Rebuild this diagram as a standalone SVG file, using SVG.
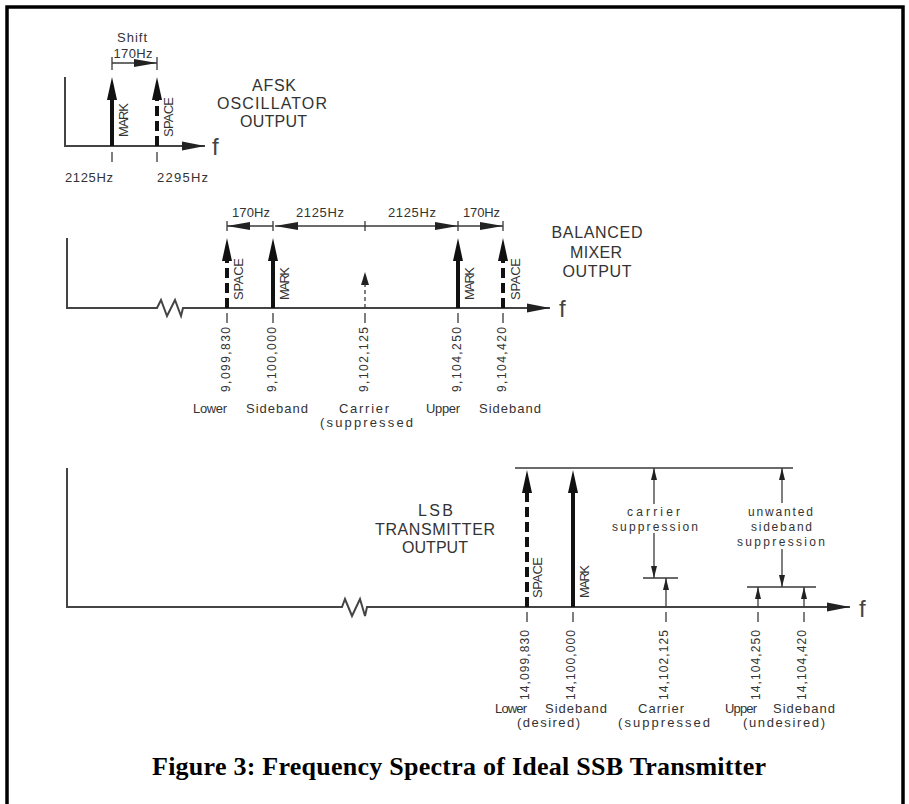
<svg xmlns="http://www.w3.org/2000/svg" width="909" height="804" viewBox="0 0 909 804">
<style>
.ln{stroke:#3a3a3a;stroke-width:1.3;fill:none}
.ax{stroke:#444;stroke-width:2;fill:none}
.mk{stroke:#111;stroke-width:4;fill:none}
.sp{stroke:#111;stroke-width:4;fill:none;stroke-dasharray:10 5}
.cad{font-family:"Liberation Sans",Arial,sans-serif;fill:#333}
.big{font-size:16px}
.sm{font-size:13px}
.xs{font-size:12px}
.f{font-family:"Liberation Sans",Arial,sans-serif;font-size:24px;fill:#444}
.cap{font-family:"Liberation Serif","Times New Roman",serif;font-weight:bold;font-size:26px;fill:#000}
</style>
<defs>
<marker id="big" markerUnits="userSpaceOnUse" markerWidth="30" markerHeight="30" refX="0" refY="0" orient="auto" overflow="visible"><path d="M0,-5 L23,0 L0,5 z" fill="#111"/></marker>
<marker id="dim" markerUnits="userSpaceOnUse" markerWidth="30" markerHeight="30" refX="0" refY="0" orient="auto" overflow="visible"><path d="M-23,-4 L0,0 L-23,4 z" fill="#222"/></marker>
<marker id="axa" markerUnits="userSpaceOnUse" markerWidth="30" markerHeight="30" refX="0" refY="0" orient="auto" overflow="visible"><path d="M-23,-4.5 L0,0 L-23,4.5 z" fill="#222"/></marker>
<marker id="car" markerUnits="userSpaceOnUse" markerWidth="30" markerHeight="30" refX="0" refY="0" orient="auto" overflow="visible"><path d="M0,-4 L13,0 L0,4 z" fill="#222"/></marker>
<marker id="smA" markerUnits="userSpaceOnUse" markerWidth="30" markerHeight="30" refX="0" refY="0" orient="auto" overflow="visible"><path d="M-12,-3 L0,0 L-12,3 z" fill="#222"/></marker>
</defs>
<rect x="7" y="7" width="896" height="830" fill="#fff" stroke="#000" stroke-width="3.5"/>

<g id="afsk">
<path class="ax" d="M65,77 V146 H205" marker-end="url(#axa)"/>
<text class="f" x="212" y="155">f</text>
<line class="mk" x1="112" y1="146" x2="112" y2="100" marker-end="url(#big)"/>
<line class="sp" x1="157" y1="146" x2="157" y2="100" marker-end="url(#big)"/>
<path class="ln" d="M112,152 V162 M157,152 V162 M112,57 V70 M157,57 V70"/>
<line class="ln" x1="112" y1="63" x2="157" y2="63" marker-end="url(#dim)"/>
<text class="cad sm" x="132" y="42" text-anchor="middle" textLength="30">Shift</text>
<text class="cad sm" x="133" y="58" text-anchor="middle" textLength="39">170Hz</text>
<text class="cad sm" x="89" y="182" text-anchor="middle" textLength="48">2125Hz</text>
<text class="cad sm" x="182.5" y="182" text-anchor="middle" textLength="51">2295Hz</text>
<text class="cad sm" transform="translate(128,137) rotate(-90)" textLength="34">MARK</text>
<text class="cad sm" transform="translate(173,137) rotate(-90)" textLength="40">SPACE</text>
<text class="cad big" x="274" y="91" text-anchor="middle" textLength="44">AFSK</text>
<text class="cad big" x="272" y="109" text-anchor="middle" textLength="110">OSCILLATOR</text>
<text class="cad big" x="273.5" y="127" text-anchor="middle" textLength="67">OUTPUT</text>
</g>

<g id="mixer">
<path class="ax" d="M67,238 V308 H157 L161,300 L167,316 L175,300 L181,316 L183,308 H550" marker-end="url(#axa)"/>
<text class="f" x="559" y="317">f</text>
<line class="sp" x1="227" y1="308" x2="227" y2="261" marker-end="url(#big)"/>
<line class="mk" x1="273" y1="308" x2="273" y2="261" marker-end="url(#big)"/>
<line class="ln" x1="365" y1="308" x2="365" y2="285" stroke-dasharray="4 3" marker-end="url(#car)"/>
<line class="mk" x1="458" y1="308" x2="458" y2="261" marker-end="url(#big)"/>
<line class="sp" x1="503" y1="308" x2="503" y2="261" marker-end="url(#big)"/>
<path class="ln" d="M227,221 V231 M273,221 V231 M365,221 V231 M458,221 V231 M503,221 V231"/>
<line class="ln" x1="273" y1="226" x2="227" y2="226" marker-end="url(#dim)"/>
<line class="ln" x1="365" y1="226" x2="275" y2="226" marker-end="url(#dim)"/>
<line class="ln" x1="365" y1="226" x2="458" y2="226" marker-end="url(#dim)"/>
<line class="ln" x1="458" y1="226" x2="503" y2="226" marker-end="url(#dim)"/>
<path class="ln" d="M227,313 V323 M273,313 V323 M365,313 V323 M458,313 V323 M503,313 V323"/>
<text class="cad sm" x="251" y="217" text-anchor="middle" textLength="38">170Hz</text>
<text class="cad sm" x="320" y="217" text-anchor="middle" textLength="48">2125Hz</text>
<text class="cad sm" x="412" y="217" text-anchor="middle" textLength="48">2125Hz</text>
<text class="cad sm" x="481.5" y="217" text-anchor="middle" textLength="37">170Hz</text>
<text class="cad sm" transform="translate(242.5,300) rotate(-90)" textLength="42">SPACE</text>
<text class="cad sm" transform="translate(288.5,300) rotate(-90)" textLength="33">MARK</text>
<text class="cad sm" transform="translate(473.5,300) rotate(-90)" textLength="33">MARK</text>
<text class="cad sm" transform="translate(519.5,300) rotate(-90)" textLength="42">SPACE</text>
<text class="cad xs" transform="translate(229.5,392) rotate(-90)" textLength="65">9,099,830</text>
<text class="cad xs" transform="translate(275.5,392) rotate(-90)" textLength="65">9,100,000</text>
<text class="cad xs" transform="translate(367.5,392) rotate(-90)" textLength="65">9,102,125</text>
<text class="cad xs" transform="translate(460.5,392) rotate(-90)" textLength="65">9,104,250</text>
<text class="cad xs" transform="translate(505.5,392) rotate(-90)" textLength="65">9,104,420</text>
<text class="cad sm" x="210" y="413" text-anchor="middle" textLength="34">Lower</text>
<text class="cad sm" x="277" y="413" text-anchor="middle" textLength="62">Sideband</text>
<text class="cad sm" x="364" y="413" text-anchor="middle" textLength="50">Carrier</text>
<text class="cad sm" x="366.5" y="427" text-anchor="middle" textLength="93">(suppressed</text>
<text class="cad sm" x="443" y="413" text-anchor="middle" textLength="34">Upper</text>
<text class="cad sm" x="510" y="413" text-anchor="middle" textLength="62">Sideband</text>
<text class="cad big" x="597" y="238" text-anchor="middle" textLength="91">BALANCED</text>
<text class="cad big" x="596" y="257.5" text-anchor="middle" textLength="52">MIXER</text>
<text class="cad big" x="597" y="277" text-anchor="middle" textLength="69">OUTPUT</text>
</g>

<g id="lsb">
<path class="ax" d="M67,468 V607 H342 L345,599 L352,616 L360,599 L365,616 L367,607 H850" marker-end="url(#axa)"/>
<text class="f" x="859" y="617">f</text>
<path class="ln" d="M515,468 H793"/>
<line class="sp" x1="527" y1="607" x2="527" y2="493" marker-end="url(#big)"/>
<line class="mk" x1="573" y1="607" x2="573" y2="493" marker-end="url(#big)"/>
<path class="ln" d="M643,578 H678 M747,587 H816"/>
<line class="ln" x1="654" y1="504" x2="654" y2="468" marker-end="url(#smA)"/>
<line class="ln" x1="654" y1="533" x2="654" y2="578" marker-end="url(#smA)"/>
<line class="ln" x1="666" y1="607" x2="666" y2="578" marker-end="url(#smA)"/>
<line class="ln" x1="782" y1="503" x2="782" y2="468" marker-end="url(#smA)"/>
<line class="ln" x1="782" y1="549" x2="782" y2="587" marker-end="url(#smA)"/>
<line class="ln" x1="758" y1="607" x2="758" y2="587" marker-end="url(#smA)"/>
<line class="ln" x1="804" y1="607" x2="804" y2="587" marker-end="url(#smA)"/>
<path class="ln" d="M527,612 V622 M573,612 V622 M666,612 V622 M758,612 V622 M804,612 V622"/>
<text class="cad sm" transform="translate(541.5,598) rotate(-90)" textLength="41">SPACE</text>
<text class="cad sm" transform="translate(588.5,598) rotate(-90)" textLength="33">MARK</text>
<text class="cad xs" x="653.5" y="516" text-anchor="middle" textLength="53">carrier</text>
<text class="cad xs" x="655" y="531" text-anchor="middle" textLength="86">suppression</text>
<text class="cad xs" x="780.5" y="516" text-anchor="middle" textLength="65">unwanted</text>
<text class="cad xs" x="781.5" y="531" text-anchor="middle" textLength="61">sideband</text>
<text class="cad xs" x="781" y="546" text-anchor="middle" textLength="88">suppression</text>
<text class="cad xs" transform="translate(529,700) rotate(-90)" textLength="70">14,099,830</text>
<text class="cad xs" transform="translate(575,700) rotate(-90)" textLength="70">14,100,000</text>
<text class="cad xs" transform="translate(668,700) rotate(-90)" textLength="70">14,102,125</text>
<text class="cad xs" transform="translate(760,700) rotate(-90)" textLength="70">14,104,250</text>
<text class="cad xs" transform="translate(806,700) rotate(-90)" textLength="70">14,104,420</text>
<text class="cad sm" x="511" y="713" text-anchor="middle" textLength="32">Lower</text>
<text class="cad sm" x="576" y="713" text-anchor="middle" textLength="62">Sideband</text>
<text class="cad sm" x="548.5" y="727" text-anchor="middle" textLength="63">(desired)</text>
<text class="cad sm" x="661" y="713" text-anchor="middle" textLength="46">Carrier</text>
<text class="cad sm" x="664" y="727" text-anchor="middle" textLength="92">(suppressed</text>
<text class="cad sm" x="741" y="713" text-anchor="middle" textLength="32">Upper</text>
<text class="cad sm" x="804" y="713" text-anchor="middle" textLength="62">Sideband</text>
<text class="cad sm" x="784" y="727" text-anchor="middle" textLength="82">(undesired)</text>
<text class="cad big" x="435.5" y="516" text-anchor="middle" textLength="35">LSB</text>
<text class="cad big" x="435" y="535" text-anchor="middle" textLength="120">TRANSMITTER</text>
<text class="cad big" x="435" y="553" text-anchor="middle" textLength="66">OUTPUT</text>
</g>

<text class="cap" x="459" y="775" text-anchor="middle" textLength="614">Figure 3: Frequency Spectra of Ideal SSB Transmitter</text>
</svg>
